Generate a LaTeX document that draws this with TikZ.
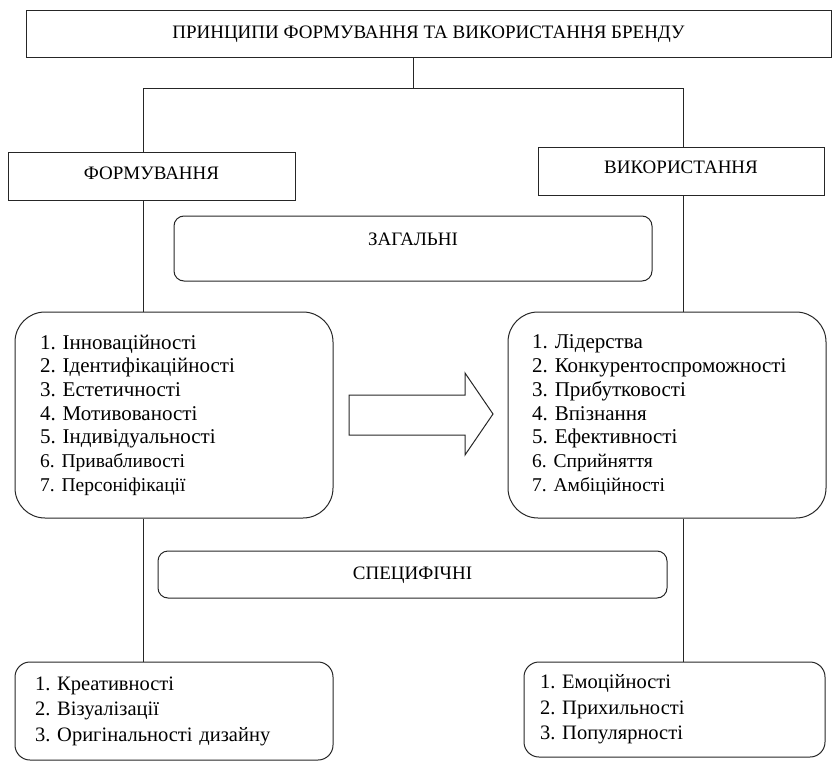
\documentclass[tikz,border=0pt]{standalone}
\usepackage{fontspec}
\setmainfont{Liberation Serif}
\frenchspacing
\newcommand{\sm}{\fontsize{19.5}{23.7}\selectfont}

\tikzset{
  hdr/.style={draw, inner sep=0pt, font=\fontsize{19}{22}\selectfont, text height=13pt, text depth=#1},
  lst/.style={draw, inner ysep=0pt, align=left, font=\fontsize{21}{23.7}\selectfont},
  sub/.style={draw, inner ysep=0pt, align=left, rounded corners=15pt, font=\fontsize{20.5}{25.5}\selectfont}
}

\begin{document}
\begin{tikzpicture}[x=1pt,y=-1pt,line width=1pt,draw=black!85]
  \useasboundingbox (0,0) rectangle (832,762);

  \node[hdr=5pt,minimum width=805pt,minimum height=47pt] (title) at (428.5,34.5) {ПРИНЦИПИ ФОРМУВАННЯ ТА ВИКОРИСТАННЯ БРЕНДУ};
  \node[hdr=8pt,minimum width=287pt,minimum height=48pt] (form) at (151.5,177) {ФОРМУВАННЯ};
  \node[hdr=10pt,minimum width=286pt,minimum height=48pt] (use) at (681,172) {ВИКОРИСТАННЯ};
  \node[hdr=19pt,rounded corners=10pt,minimum width=478pt,minimum height=65pt] (gen) at (413,248.5) {ЗАГАЛЬНІ};
  \node[hdr=3pt,rounded corners=10pt,minimum width=509pt,minimum height=47pt] (spec) at (412.5,574.5) {СПЕЦИФІЧНІ};

  \node[lst,rounded corners=30pt,inner xsep=25pt,text width=268pt,minimum height=206pt] (lform) at (174,415)
    {1. Інноваційності\\ 2. Ідентифікаційності\\ 3. Естетичності\\ 4. Мотивованості\\ 5. Індивідуальності\\
     {\sm 6. Привабливості}\\ {\sm 7. Персоніфікації}};
  \node[lst,rounded corners=30pt,inner xsep=24pt,text width=270pt,minimum height=206pt] (luse) at (667,415)
    {1. Лідерства\\ 2. Конкурентоспроможності\\ 3. Прибутковості\\ 4. Впізнання\\ 5. Ефективності\\
     {\sm 6. Сприйняття}\\ {\sm 7. Амбіційності}};

  \node[sub,inner xsep=20pt,text width=278pt,minimum height=98pt] (sform) at (174,711)
    {1. Креативності\\ 2. Візуалізації\\ 3. Оригінальності дизайну};
  \node[sub,inner xsep=16pt,text width=269pt,minimum height=95pt] (suse) at (674.5,709.5)
    {1. Емоційності\\ 2. Прихильності\\ 3. Популярності};

  % branching lines
  \coordinate (split) at (413,89);
  \coordinate (lx) at (143,0);
  \coordinate (rx) at (683,0);
  \draw (title.south -| split) -- (split);
  \draw (form.north -| lx) -- (lx |- split) -- (rx |- split) -- (use.north -| rx);
  \draw (form.south -| lx) -- (lform.north -| lx);
  \draw (use.south -| rx) -- (luse.north -| rx);
  \draw (lform.south -| lx) -- (sform.north -| lx);
  \draw (luse.south -| rx) -- (suse.north -| rx);

  % block arrow
  \draw (349,395) -- (465,395) -- (465,373) -- (493,414) -- (465,455) -- (465,435) -- (349,435) -- cycle;
\end{tikzpicture}
\end{document}
